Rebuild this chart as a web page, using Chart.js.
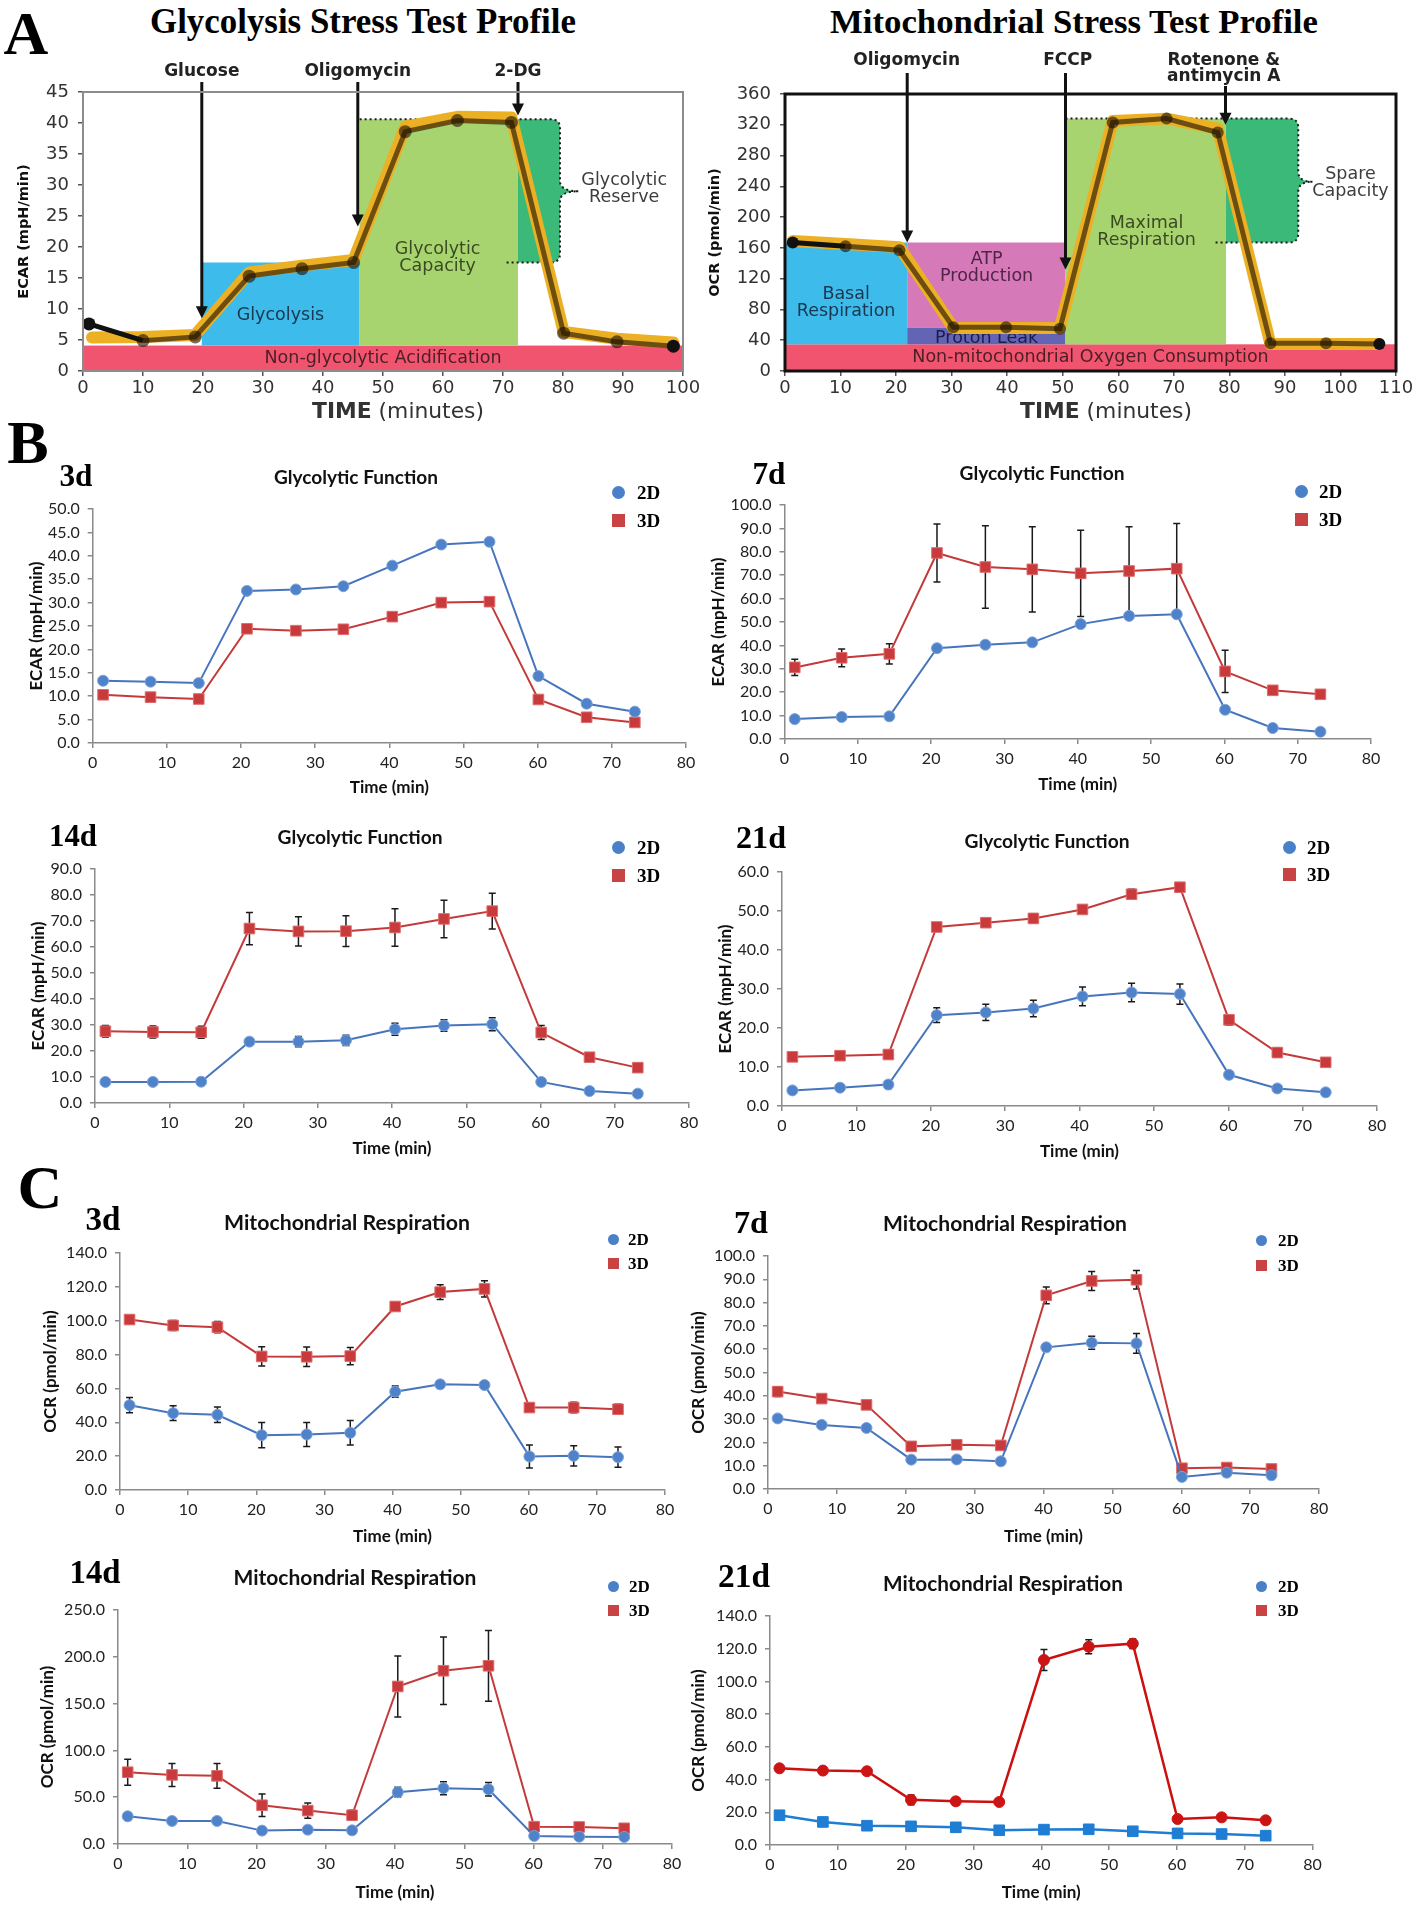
<!DOCTYPE html>
<html>
<head>
<meta charset="utf-8">
<title>Glycolysis and mitochondrial stress test profiles</title>
<script src="https://cdn.jsdelivr.net/npm/chart.js@4.4.1/dist/chart.umd.min.js"></script>
<style>
  html, body { margin: 0; padding: 0; background: #fff; }
  #page { position: relative; width: 1418px; height: 1907px; overflow: hidden; background: #fff; }
  #page canvas { position: absolute; }
  .txt { position: absolute; white-space: nowrap; line-height: 1; }
</style>
</head>
<body>
<div id="page"></div>
<script>
// ---------- panel A: schematic stress test profiles ----------
const glyTime = [1.0, 10.0, 18.7, 27.7, 36.5, 45.1, 53.7, 62.4, 71.4, 80.1, 89.0, 98.4];
const glyEcar = [7.6, 4.9, 5.5, 15.3, 16.5, 17.5, 38.6, 40.4, 40.1, 6.1, 4.7, 4.0];
const glyTraceTime = [1.5, 10.0, 18.7, 27.7, 36.5, 45.1, 53.7, 62.4, 71.4, 80.1, 89.0, 98.4];
const glyTraceEcar = [5.4, 5.5, 5.8, 15.9, 17.0, 17.9, 39.4, 41.0, 40.9, 6.3, 5.2, 4.6];
const glyRegionNames = ['Non-glycolytic Acidification', 'Glycolysis', 'Glycolytic\nCapacity', 'Glycolytic\nReserve'];
const glyRegionX = [[0, 100], [19.8, 46.1], [46.1, 72.5], [72.5, 79.5]];
const glyRegionY = [[0, 4.1], [4.1, 17.5], [4.1, 40.6], [17.5, 40.6]];
const glyInjections = ['Glucose', 'Oligomycin', '2-DG'];
const glyInjectionTime = [19.8, 45.8, 72.5];
const glyArrowTip = [8.5, 23.3, 41.2];

const mitoTime = [1.4, 10.9, 20.6, 30.3, 39.8, 49.5, 59.0, 68.7, 77.9, 87.4, 97.4, 107.0];
const mitoOcr = [167, 162, 157, 57, 57, 55, 323, 328, 310, 36, 36, 35];
const mitoTraceOcr = [169, 165, 161, 56, 56, 56, 325, 328, 315, 35, 35, 35];
const mitoRegionNames = ['Non-mitochondrial Oxygen Consumption', 'Basal\nRespiration', 'ATP\nProduction', 'Proton Leak', 'Maximal\nRespiration', 'Spare\nCapacity'];
const mitoRegionX = [[0, 110], [0, 22], [22, 50.5], [22, 50.5], [50.5, 79.4], [79.4, 92.4]];
const mitoRegionY = [[0, 34.7], [34.7, 167], [56, 167], [34.7, 56], [34.7, 328], [167, 328]];
const mitoInjections = ['Oligomycin', 'FCCP', 'Rotenone &\nantimycin A'];
const mitoInjectionTime = [22, 50.5, 79.3];
const mitoArrowTip = [167, 132, 320];

// ---------- panels B and C: measurement times ----------
const seahorseTime = [1.4, 7.8, 14.3, 20.8, 27.4, 33.8, 40.4, 47.0, 53.5, 60.1, 66.6, 73.1];
const groupLabels = ['2D', '3D'];

// B: ECAR (mpH/min)
const ecar3d2D = [13.3, 13.1, 12.8, 32.5, 32.8, 33.5, 37.9, 42.4, 43.0, 14.3, 8.4, 6.7];
const ecar3d3D = [10.3, 9.8, 9.4, 24.4, 24.0, 24.3, 27.0, 30.0, 30.2, 9.3, 5.5, 4.4];

const ecar7d2D = [8.5, 9.4, 9.7, 38.8, 40.3, 41.3, 49.1, 52.6, 53.3, 12.5, 4.7, 3.1];
const ecar7d2DErr = [0.8, 0.8, 0.8, 1.0, 1.0, 1.0, 1.5, 1.2, 1.2, 0.8, 0.5, 0.5];
const ecar7d3D = [30.6, 34.7, 36.4, 79.5, 73.5, 72.5, 70.8, 71.8, 72.8, 28.9, 20.8, 19.1];
const ecar7d3DErr = [3.5, 3.8, 4.3, 12.4, 17.6, 18.2, 18.4, 18.9, 19.3, 9.0, 0.8, 0.8];

const ecar14d2D = [8.1, 8.1, 8.2, 23.6, 23.6, 24.1, 28.4, 29.8, 30.3, 8.1, 4.6, 3.6];
const ecar14d2DErr = [0.5, 0.5, 0.5, 1.2, 2.0, 2.0, 2.3, 2.2, 2.5, 0.8, 0.5, 0.5];
const ecar14d3D = [27.6, 27.3, 27.2, 67.1, 66.0, 66.1, 67.5, 70.8, 73.8, 27.1, 17.6, 13.6];
const ecar14d3DErr = [2.2, 2.3, 2.3, 6.2, 5.6, 5.9, 7.2, 7.2, 6.9, 2.7, 0.5, 0.5];

const ecar21d2D = [4.0, 4.7, 5.5, 23.3, 24.0, 25.0, 28.1, 29.1, 28.7, 8.0, 4.5, 3.5];
const ecar21d2DErr = [0.5, 0.5, 1.0, 1.9, 2.1, 2.1, 2.4, 2.4, 2.6, 0.7, 0.5, 0.5];
const ecar21d3D = [12.6, 12.9, 13.2, 45.9, 47.0, 48.1, 50.4, 54.3, 56.1, 22.1, 13.7, 11.2];
const ecar21d3DErr = [0.4, 0.4, 0.4, 0.6, 1.0, 1.2, 0.6, 1.3, 0.6, 1.3, 1.2, 0.5];

// C: OCR (pmol/min)
const ocr3d2D = [50.1, 45.4, 44.4, 32.4, 32.8, 33.8, 58.1, 62.4, 62.0, 19.8, 20.2, 19.4];
const ocr3d2DErr = [4.5, 4.4, 4.6, 7.4, 7.1, 7.2, 3.3, 1.0, 1.0, 6.8, 6.0, 6.0];
const ocr3d3D = [100.7, 97.2, 96.2, 78.9, 78.7, 79.1, 108.4, 116.9, 118.8, 48.7, 48.7, 47.7];
const ocr3d3DErr = [1.5, 3.0, 3.3, 5.7, 5.7, 5.1, 1.5, 4.4, 4.8, 1.5, 3.1, 3.0];

const ocr7d2D = [30.3, 27.5, 26.2, 12.6, 12.7, 11.9, 60.8, 62.8, 62.5, 5.2, 7.0, 5.9];
const ocr7d2DErr = [0.5, 0.5, 0.5, 0.5, 0.5, 0.5, 1.0, 2.8, 4.2, 1.5, 0.5, 0.5];
const ocr7d3D = [41.8, 38.8, 36.1, 18.3, 19.0, 18.7, 83.1, 89.3, 89.8, 8.9, 9.2, 8.6];
const ocr7d3DErr = [2.1, 1.0, 1.5, 0.5, 0.5, 0.5, 3.6, 4.1, 4.0, 0.5, 0.5, 0.5];

const ocr14d2D = [29.6, 24.6, 24.6, 14.3, 15.3, 14.6, 55.3, 59.6, 58.5, 8.6, 7.8, 7.5];
const ocr14d2DErr = [2.0, 2.0, 2.0, 1.5, 1.5, 1.5, 5.2, 7.0, 7.3, 1.5, 1.0, 1.0];
const ocr14d3D = [76.7, 73.8, 72.8, 41.4, 35.7, 30.7, 168.3, 185.1, 190.4, 18.5, 18.2, 16.8];
const ocr14d3DErr = [13.9, 12.3, 13.2, 12.0, 8.2, 5.3, 32.5, 36.0, 37.8, 4.0, 2.0, 2.0];

const ocr21d2D = [18.2, 14.1, 11.8, 11.4, 10.8, 9.0, 9.4, 9.6, 8.4, 7.1, 6.7, 5.7];
const ocr21d2DErr = [1.5, 1.0, 1.0, 1.0, 1.0, 1.5, 1.0, 1.0, 1.0, 1.0, 1.0, 1.5];
const ocr21d3D = [46.9, 45.5, 45.1, 27.6, 26.7, 26.3, 113.1, 121.2, 123.1, 15.9, 16.9, 15.1];
const ocr21d3DErr = [1.5, 1.5, 1.0, 3.0, 1.0, 1.0, 6.4, 4.3, 2.9, 1.0, 1.0, 1.0];

// ---------- styles ----------
const dejavu = '"DejaVu Sans", "Liberation Sans", sans-serif';
const lato = 'Lato, "Liberation Sans", sans-serif';
const serif = '"Liberation Serif", "Times New Roman", serif';
const axisGray = '#8a8a8a';
const blue = { line: '#4775bd', fill: '#4f82c8', edge: '#7aa3dc' };
const red = { line: '#c43a3a', fill: '#c93a3c', edge: '#de6c6c' };
const brightRed = { line: '#cc1010', fill: '#cc1414', edge: '#cc1414' };
const brightBlue = { line: '#1f7dd4', fill: '#1f7dd4', edge: '#1f7dd4' };
const regionColor = { red: '#f1546f', blue: '#3dbbea', lime: '#a8d470', green: '#3bb978', pink: '#d679b9', violet: '#6464b4' };

const page = document.getElementById('page');

function addCanvas(left, top, w, h) {
  const c = document.createElement('canvas');
  c.width = w;
  c.height = h;
  c.style.left = left + 'px';
  c.style.top = top + 'px';
  c.style.width = w + 'px';
  c.style.height = h + 'px';
  page.appendChild(c);
  return c;
}

function addText(html, x, y, css, fitWidth, align) {
  const el = document.createElement('div');
  el.className = 'txt';
  el.innerHTML = html;
  Object.assign(el.style, css);
  el.style.left = x + 'px';
  el.style.top = y + 'px';
  el.style.transform = align === 'left' ? 'translate(0,-50%)' : 'translate(-50%,-50%)';
  page.appendChild(el);
  if (fitWidth) {
    const w = el.getBoundingClientRect().width;
    const fs = parseFloat(el.style.fontSize);
    el.style.fontSize = (fs * fitWidth / w).toFixed(2) + 'px';
  }
  return el;
}

function addLegend(x, y1, y2, textLeft, size, mark) {
  const marks = [{ shape: 'circle', color: '#4a80c8' }, { shape: 'square', color: '#c84444' }];
  groupLabels.forEach((label, i) => {
    const y = i ? y2 : y1;
    const m = document.createElement('div');
    m.style.cssText = 'position:absolute;left:' + (x - mark / 2) + 'px;top:' + (y - mark / 2) + 'px;width:' + mark +
      'px;height:' + mark + 'px;background:' + marks[i].color + ';border-radius:' + (marks[i].shape === 'circle' ? '50%' : '0');
    page.appendChild(m);
    addText(label, textLeft, y, { fontFamily: serif, fontWeight: 'bold', fontSize: size + 'px', color: '#000' }, 0, 'left');
  });
}

// error bars drawn under the markers
const errorBars = {
  id: 'errorBars',
  beforeDatasetsDraw(chart) {
    const ctx = chart.ctx;
    const ys = chart.scales.y;
    chart.data.datasets.forEach((ds, i) => {
      if (!ds.errors) return;
      const meta = chart.getDatasetMeta(i);
      ctx.save();
      ctx.strokeStyle = '#1a1a1a';
      ctx.lineWidth = 1.5;
      meta.data.forEach((pt, j) => {
        const e = ds.errors[j];
        const v = ds.data[j].y;
        const t = ys.getPixelForValue(v + e), b = ys.getPixelForValue(v - e);
        ctx.beginPath();
        ctx.moveTo(pt.x, t); ctx.lineTo(pt.x, b);
        ctx.moveTo(pt.x - 3.5, t); ctx.lineTo(pt.x + 3.5, t);
        ctx.moveTo(pt.x - 3.5, b); ctx.lineTo(pt.x + 3.5, b);
        ctx.stroke();
      });
      ctx.restore();
    });
  }
};

function seahorseChart(spec) {
  const titleFont = { family: lato, size: 17, weight: 'bold' };
  const tickFont = { family: lato, size: 16 };
  const lh = titleFont.size * 1.2;
  const left = Math.round(spec.yTitleX - lh / 2);
  const top = Math.round(spec.T - 22);
  const right = Math.round(spec.R + 18);
  const bottom = Math.round(spec.xTitleY + lh / 2);
  const canvas = addCanvas(left, top, right - left, bottom - top);
  const yW = spec.L - left, xH = bottom - spec.B;
  const axis = {
    grid: { drawOnChartArea: false, drawTicks: true, tickLength: 5, color: axisGray, lineWidth: 1.5 },
    border: { color: axisGray, width: 1.5 }
  };
  new Chart(canvas, {
    type: 'line',
    data: {
      datasets: spec.series.map(s => ({
        label: s.label,
        data: seahorseTime.map((t, i) => ({ x: t, y: s.values[i] })),
        errors: s.errors,
        borderColor: s.color.line,
        borderWidth: s.width || 2,
        backgroundColor: s.color.fill,
        pointBackgroundColor: s.color.fill,
        pointBorderColor: s.color.edge,
        pointBorderWidth: 1,
        pointStyle: s.marker,
        pointRadius: s.marker === 'rect' ? 7.5 : 5.5,
        tension: 0
      }))
    },
    options: {
      responsive: false,
      animation: false,
      devicePixelRatio: 1,
      layout: { padding: { left: 0, top: spec.T - top, right: right - spec.R, bottom: 0 } },
      plugins: { legend: { display: false }, tooltip: { enabled: false } },
      scales: {
        x: {
          type: 'linear', min: 0, max: 80,
          ticks: { stepSize: 10, font: tickFont, color: '#222', padding: 5 },
          ...axis,
          title: { display: true, text: 'Time (min)', font: titleFont, color: '#111', padding: 0 },
          afterFit: s => { s.height = xH; }
        },
        y: {
          min: 0, max: spec.yMax,
          ticks: { stepSize: spec.yStep, font: tickFont, color: '#222', padding: 8, callback: v => v.toFixed(1) },
          ...axis,
          title: { display: true, text: spec.yLabel, font: titleFont, color: '#111', padding: 0 },
          afterFit: s => { s.width = yW; }
        }
      }
    },
    plugins: [errorBars]
  });
  addText(spec.day, spec.dayX, spec.dayY, { fontFamily: serif, fontWeight: 'bold', fontSize: '31px', color: '#000' }, spec.dayW);
  addText(spec.title, spec.titleX, spec.titleY, { fontFamily: lato, fontWeight: 'bold', fontSize: '18px', color: '#111' }, spec.titleW);
  addLegend(spec.legX, spec.legY[0], spec.legY[1], spec.legText, spec.legSize, spec.legMark);
}

function profilePlugin(p) {
  return {
    id: 'profile',
    beforeDatasetsDraw(chart) {
      const { ctx, scales: { x, y } } = chart;
      const X = v => x.getPixelForValue(v), Y = v => y.getPixelForValue(v);
      ctx.save();
      p.regionX.forEach((rx, i) => {
        if (i === p.braceIndex) return;
        const ry = p.regionY[i];
        ctx.fillStyle = p.colors[i];
        ctx.fillRect(X(rx[0]), Y(ry[1]), X(rx[1]) - X(rx[0]), Y(ry[0]) - Y(ry[1]));
      });
      // reserve / spare capacity with curly brace edge
      const rx = p.regionX[p.braceIndex], ry = p.regionY[p.braceIndex];
      const x0 = X(rx[0]), x1 = X(rx[1]), yt = Y(ry[1]), yb = Y(ry[0]);
      const ym = Y(p.braceMid), xt = X(p.braceTip), r = 9, k = 10;
      const bracePath = () => {
        ctx.lineTo(x1 - r, yt);
        ctx.quadraticCurveTo(x1, yt, x1, yt + r);
        ctx.lineTo(x1, ym - k);
        ctx.quadraticCurveTo(x1, ym, xt, ym);
        ctx.quadraticCurveTo(x1, ym, x1, ym + k);
        ctx.lineTo(x1, yb - r);
        ctx.quadraticCurveTo(x1, yb, x1 - r, yb);
      };
      ctx.fillStyle = p.colors[p.braceIndex];
      ctx.beginPath();
      ctx.moveTo(x0, yt);
      bracePath();
      ctx.lineTo(x0, yb);
      ctx.closePath();
      ctx.fill();
      ctx.setLineDash([2, 3]);
      ctx.lineWidth = 2;
      ctx.strokeStyle = '#1a1a1a';
      ctx.beginPath();
      ctx.moveTo(X(p.dotTopFrom), yt);
      bracePath();
      ctx.lineTo(X(p.dotBottomFrom), yb);
      ctx.stroke();
      ctx.setLineDash([]);
      // region names
      ctx.font = '17.5px ' + dejavu;
      ctx.textAlign = 'center';
      ctx.textBaseline = 'middle';
      p.names.forEach((name, i) => {
        const lines = name.split('\n');
        const cx = X(p.labelAt[i][0]), cy = Y(p.labelAt[i][1]);
        ctx.fillStyle = p.textColors[i];
        lines.forEach((ln, j) => ctx.fillText(ln, cx, cy + (j - (lines.length - 1) / 2) * 17));
      });
      ctx.restore();
    },
    afterDatasetsDraw(chart) {
      const { ctx, chartArea: a, scales: { x, y } } = chart;
      const X = v => x.getPixelForValue(v), Y = v => y.getPixelForValue(v);
      ctx.save();
      ctx.fillStyle = '#111';
      ctx.strokeStyle = '#111';
      ctx.lineWidth = 3;
      p.arrowX.forEach((ax, i) => {
        const px = X(ax), y0 = a.top + p.arrowStart[i], y1 = Y(p.arrowTip[i]);
        ctx.beginPath();
        ctx.moveTo(px, y0);
        ctx.lineTo(px, y1 - 10);
        ctx.stroke();
        ctx.beginPath();
        ctx.moveTo(px - 6, y1 - 12);
        ctx.lineTo(px + 6, y1 - 12);
        ctx.lineTo(px, y1);
        ctx.closePath();
        ctx.fill();
      });
      ctx.font = 'bold 17px ' + dejavu;
      ctx.textAlign = 'center';
      ctx.textBaseline = 'middle';
      ctx.fillStyle = '#222';
      p.injections.forEach((name, i) => {
        name.split('\n').forEach((ln, j) => ctx.fillText(ln, X(p.injLabelX[i]), a.top + p.injLabelY[j]));
      });
      ctx.restore();
    },
    afterDraw(chart) {
      const { ctx, chartArea: a } = chart;
      ctx.save();
      ctx.strokeStyle = p.frameColor;
      ctx.lineWidth = p.frameWidth;
      ctx.strokeRect(a.left, a.top, a.right - a.left, a.bottom - a.top);
      ctx.restore();
    }
  };
}

function profileChart(spec) {
  const lh = 14.5 * 1.2;
  const left = Math.round(spec.yTitleX - lh / 2);
  const top = spec.canvasTop;
  const right = Math.round(spec.R + 22);
  const bottom = Math.round(spec.B + 38);
  const canvas = addCanvas(left, top, right - left, bottom - top);
  const yW = spec.L - left, xH = bottom - spec.B;
  const n = spec.time.length;
  const ink = 'rgba(30,18,0,0.62)';
  const axis = {
    grid: { drawOnChartArea: false, drawTicks: true, tickLength: 5, color: '#555', lineWidth: 1.5 },
    border: { color: '#666', width: 1.5 }
  };
  const tickFont = { family: dejavu, size: 18 };
  new Chart(canvas, {
    type: 'line',
    data: {
      datasets: [
        {
          data: spec.time.map((t, i) => ({ x: t, y: spec.values[i] })),
          borderColor: ink, borderWidth: 5,
          pointRadius: spec.pointRadius, pointBorderWidth: 0,
          pointBackgroundColor: spec.time.map((t, i) => (i === 0 || i === n - 1) ? '#111' : ink),
          segment: { borderColor: c => c.p0DataIndex === 0 ? '#111' : undefined },
          order: 0
        },
        {
          data: spec.traceTime.map((t, i) => ({ x: t, y: spec.traceValues[i] })),
          borderColor: '#ecb025', borderWidth: 12, pointRadius: 0,
          borderJoinStyle: 'round', borderCapStyle: 'round',
          order: 1
        }
      ]
    },
    options: {
      responsive: false,
      animation: false,
      devicePixelRatio: 1,
      layout: { padding: { left: 0, top: spec.T - top, right: right - spec.R, bottom: 0 } },
      plugins: { legend: { display: false }, tooltip: { enabled: false } },
      scales: {
        x: {
          type: 'linear', min: 0, max: spec.xMax,
          ticks: { stepSize: 10, font: tickFont, color: '#333', padding: 2 },
          ...axis,
          afterFit: s => { s.height = xH; }
        },
        y: {
          min: 0, max: spec.yMax,
          ticks: { stepSize: spec.yStep, font: tickFont, color: '#333', padding: 9 },
          ...axis,
          title: { display: true, text: spec.yLabel, font: { family: dejavu, size: 14.5, weight: 'bold' }, color: '#111', padding: 0 },
          afterFit: s => { s.width = yW; }
        }
      }
    },
    plugins: [profilePlugin(spec.annot)]
  });
  addText('<b>TIME</b> (minutes)', spec.timeX, 411, { fontFamily: dejavu, fontSize: '22px', color: '#333' }, 172);
}

// ---------- panel A ----------
addText('A', 26, 33, { fontFamily: serif, fontWeight: 'bold', fontSize: '62px', color: '#000' });
addText('Glycolysis Stress Test Profile', 363, 22, { fontFamily: serif, fontWeight: 'bold', fontSize: '34px', color: '#000' }, 426);
addText('Mitochondrial Stress Test Profile', 1074, 22, { fontFamily: serif, fontWeight: 'bold', fontSize: '34px', color: '#000' }, 488);

profileChart({
  L: 83, R: 683, T: 92, B: 371, yTitleX: 25, canvasTop: 52, timeX: 398,
  xMax: 100, yMax: 45, yStep: 5, yLabel: 'ECAR (mpH/min)', pointRadius: 6.5,
  time: glyTime, values: glyEcar, traceTime: glyTraceTime, traceValues: glyTraceEcar,
  annot: {
    regionX: glyRegionX, regionY: glyRegionY, names: glyRegionNames,
    colors: [regionColor.red, regionColor.blue, regionColor.lime, regionColor.green],
    textColors: ['#4a1f26', '#1b3650', '#3b4a22', '#3d3d3d'],
    labelAt: [[50, 2.0], [32.9, 9.0], [59.1, 18.2], [90.2, 29.3]],
    braceIndex: 3, braceTip: 82.6, braceMid: 29.0, dotTopFrom: 46.1, dotBottomFrom: 70.2,
    injections: glyInjections, injLabelX: glyInjectionTime, injLabelY: [-20],
    arrowX: glyInjectionTime, arrowTip: glyArrowTip, arrowStart: [-10, -10, -10],
    frameColor: '#8c8c8c', frameWidth: 2
  }
});

profileChart({
  L: 785, R: 1396, T: 94, B: 371, yTitleX: 716, canvasTop: 44, timeX: 1106,
  xMax: 110, yMax: 360, yStep: 40, yLabel: 'OCR (pmol/min)', pointRadius: 6,
  time: mitoTime, values: mitoOcr, traceTime: mitoTime, traceValues: mitoTraceOcr,
  annot: {
    regionX: mitoRegionX, regionY: mitoRegionY, names: mitoRegionNames,
    colors: [regionColor.red, regionColor.blue, regionColor.pink, regionColor.violet, regionColor.lime, regionColor.green],
    textColors: ['#4a1f26', '#1b3650', '#4f2444', '#1c1c4a', '#3b4a22', '#3d3d3d'],
    labelAt: [[55, 17.3], [11, 88], [36.3, 134.5], [36.3, 42.5], [65.1, 180.2], [101.8, 244.5]],
    braceIndex: 5, braceTip: 95.0, braceMid: 246, dotTopFrom: 50.5, dotBottomFrom: 77.1,
    injections: mitoInjections, injLabelX: [21.9, 50.9, 79.0], injLabelY: [-33, -17],
    arrowX: mitoInjectionTime, arrowTip: mitoArrowTip, arrowStart: [-21, -21, -8],
    frameColor: '#111', frameWidth: 3
  }
});

// ---------- panel B ----------
addText('B', 28, 442, { fontFamily: serif, fontWeight: 'bold', fontSize: '62px', color: '#000' });

const ecarLabel = 'ECAR (mpH/min)';
const ocrLabel = 'OCR (pmol/min)';
const pair = (v2, e2, v3, e3) => [
  { label: '2D', values: v2, errors: e2, color: blue, marker: 'circle' },
  { label: '3D', values: v3, errors: e3, color: red, marker: 'rect' }
];

seahorseChart({
  L: 92.7, R: 686, T: 509, B: 743, yTitleX: 36, xTitleY: 788, yMax: 50, yStep: 5, yLabel: ecarLabel,
  day: '3d', dayX: 76, dayY: 476, dayW: 33,
  title: 'Glycolytic Function', titleX: 356, titleY: 477, titleW: 164,
  legX: 618, legY: [492, 520], legText: 637, legSize: 19, legMark: 13,
  series: pair(ecar3d2D, null, ecar3d3D, null)
});
seahorseChart({
  L: 784.5, R: 1371, T: 505, B: 739, yTitleX: 718, xTitleY: 785, yMax: 100, yStep: 10, yLabel: ecarLabel,
  day: '7d', dayX: 769, dayY: 474, dayW: 33,
  title: 'Glycolytic Function', titleX: 1042, titleY: 473, titleW: 165,
  legX: 1301, legY: [491, 519], legText: 1319, legSize: 19, legMark: 13,
  series: pair(ecar7d2D, ecar7d2DErr, ecar7d3D, ecar7d3DErr)
});
seahorseChart({
  L: 95, R: 689, T: 869, B: 1103, yTitleX: 38, xTitleY: 1149, yMax: 90, yStep: 10, yLabel: ecarLabel,
  day: '14d', dayX: 73, dayY: 836, dayW: 48,
  title: 'Glycolytic Function', titleX: 360, titleY: 837, titleW: 165,
  legX: 618, legY: [847, 875], legText: 637, legSize: 19, legMark: 13,
  series: pair(ecar14d2D, ecar14d2DErr, ecar14d3D, ecar14d3DErr)
});
seahorseChart({
  L: 782, R: 1377, T: 872, B: 1106, yTitleX: 725, xTitleY: 1152, yMax: 60, yStep: 10, yLabel: ecarLabel,
  day: '21d', dayX: 761, dayY: 837, dayW: 50,
  title: 'Glycolytic Function', titleX: 1047, titleY: 841, titleW: 165,
  legX: 1289, legY: [847, 874], legText: 1307, legSize: 19, legMark: 13,
  series: pair(ecar21d2D, ecar21d2DErr, ecar21d3D, ecar21d3DErr)
});

// ---------- panel C ----------
addText('C', 40, 1187, { fontFamily: serif, fontWeight: 'bold', fontSize: '62px', color: '#000' });

seahorseChart({
  L: 120, R: 665, T: 1253, B: 1490, yTitleX: 50, xTitleY: 1537, yMax: 140, yStep: 20, yLabel: ocrLabel,
  day: '3d', dayX: 103, dayY: 1219, dayW: 35,
  title: 'Mitochondrial Respiration', titleX: 347, titleY: 1223, titleW: 246,
  legX: 613, legY: [1239, 1263], legText: 628, legSize: 17, legMark: 11,
  series: pair(ocr3d2D, ocr3d2DErr, ocr3d3D, ocr3d3DErr)
});
seahorseChart({
  L: 768, R: 1319, T: 1256, B: 1489, yTitleX: 698, xTitleY: 1537, yMax: 100, yStep: 10, yLabel: ocrLabel,
  day: '7d', dayX: 751, dayY: 1222, dayW: 34,
  title: 'Mitochondrial Respiration', titleX: 1005, titleY: 1223, titleW: 244,
  legX: 1261, legY: [1240, 1265], legText: 1278, legSize: 17, legMark: 11,
  series: pair(ocr7d2D, ocr7d2DErr, ocr7d3D, ocr7d3DErr)
});
seahorseChart({
  L: 118, R: 672, T: 1610, B: 1844, yTitleX: 47, xTitleY: 1893, yMax: 250, yStep: 50, yLabel: ocrLabel,
  day: '14d', dayX: 95, dayY: 1572, dayW: 51,
  title: 'Mitochondrial Respiration', titleX: 355, titleY: 1577, titleW: 243,
  legX: 613, legY: [1586, 1610], legText: 629, legSize: 17, legMark: 11,
  series: pair(ocr14d2D, ocr14d2DErr, ocr14d3D, ocr14d3DErr)
});
seahorseChart({
  L: 770, R: 1312.5, T: 1616, B: 1845, yTitleX: 698, xTitleY: 1893, yMax: 140, yStep: 20, yLabel: ocrLabel,
  day: '21d', dayX: 744, dayY: 1576, dayW: 52,
  title: 'Mitochondrial Respiration', titleX: 1003, titleY: 1583, titleW: 240,
  legX: 1261, legY: [1586, 1610], legText: 1278, legSize: 17, legMark: 11,
  series: [
    { label: '2D', values: ocr21d2D, errors: ocr21d2DErr, color: brightBlue, marker: 'rect', width: 2.5 },
    { label: '3D', values: ocr21d3D, errors: ocr21d3DErr, color: brightRed, marker: 'circle', width: 2.5 }
  ]
});
</script>
</body>
</html>
